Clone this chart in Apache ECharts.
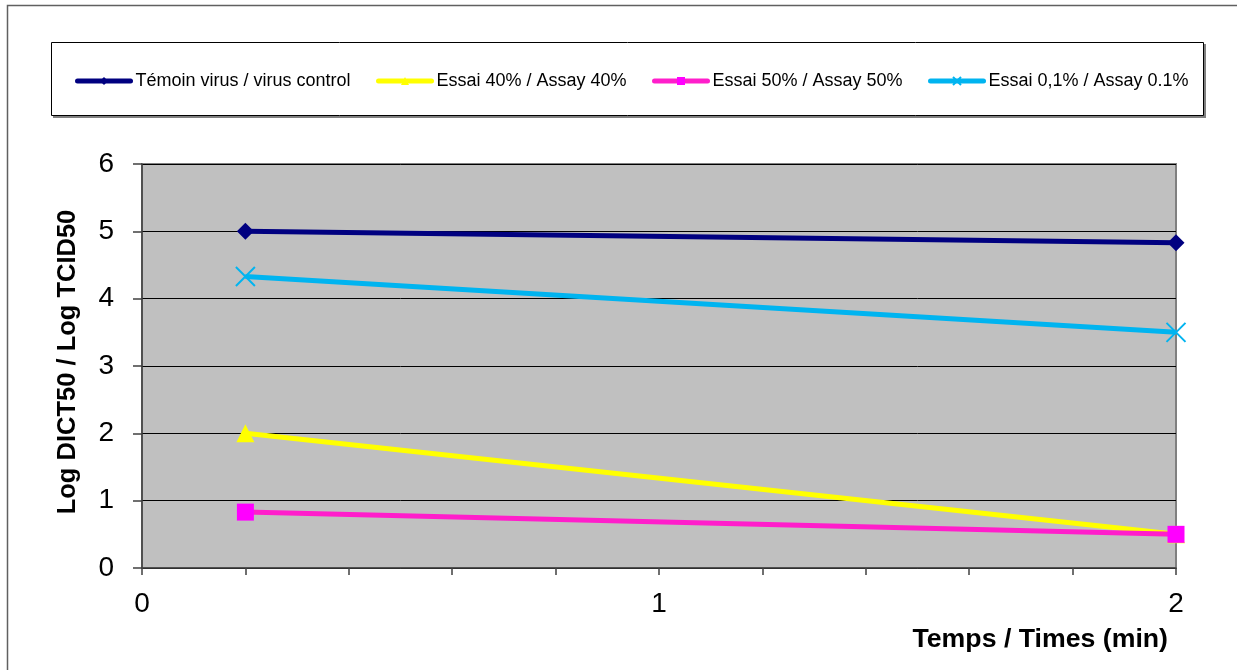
<!DOCTYPE html>
<html>
<head>
<meta charset="utf-8">
<script src="https://cdn.jsdelivr.net/npm/echarts@6/dist/echarts.min.js"></script>
<style>
  html, body { margin: 0; padding: 0; background: #ffffff; }
  #chart { width: 1237px; height: 670px; }
</style>
</head>
<body>
<div id="chart"></div>
<script>
// Sampling times (min) and Log TCID50 titres per series
const times = [0.2, 2];
const temoinVirus = [5.0, 4.83];
const essai40 = [2.0, 0.5];
const essai50 = [0.83, 0.5];
const essai01 = [4.33, 3.5];

const seriesNames = [
  'Témoin virus / virus control',
  'Essai 40% / Assay 40%',
  'Essai 50% / Assay 50%',
  'Essai 0,1% / Assay 0.1%'
];
const xTitle = 'Temps / Times (min)';
const yTitle = 'Log DICT50 / Log TCID50';

const FONT = '"Liberation Sans", Arial, sans-serif';

function pairs(vals) {
  return times.map((t, i) => [t, vals[i]]);
}

const crossPath = 'path://M0,0L10,10M10,0L0,10';

// one legend block per series so each entry sits at its own spot
const legendLefts = [75, 376, 652, 928];
const legends = seriesNames.map((name, i) => ({
  data: [name],
  left: legendLefts[i],
  top: 72,
  itemWidth: 53,
  itemHeight: 10,
  itemGap: 0,
  padding: 0,
  selectedMode: false,
  lineStyle: { width: 5, cap: 'round' },
  textStyle: { fontFamily: FONT, fontSize: 18, color: '#000' }
}));

const chart = echarts.init(document.getElementById('chart'), null, { renderer: 'canvas' });

chart.setOption({
  animation: false,
  backgroundColor: '#ffffff',
  graphic: [
    // outer chart frame
    { type: 'rect', z: -10, shape: { x: 7.5, y: 5.5, width: 1300, height: 700 },
      style: { fill: '#ffffff', stroke: '#606060', lineWidth: 1.5 } },
    // legend frame with its shadow
    { type: 'rect', z: -9, shape: { x: 53, y: 44, width: 1153, height: 74 },
      style: { fill: '#808080' } },
    { type: 'rect', z: -8, shape: { x: 51.5, y: 42.5, width: 1152, height: 73 },
      style: { fill: '#ffffff', stroke: '#000000', lineWidth: 1 } },
    // horizontal axis title
    { type: 'text', right: 1237 - 1168, top: 626,
      style: { text: xTitle, font: 'bold 26.7px ' + FONT, fill: '#000' } },
    // vertical axis title
    { type: 'text', x: 68, y: 362, rotation: Math.PI / 2,
      style: { text: yTitle, font: 'bold 25.5px ' + FONT, fill: '#000',
               align: 'center', verticalAlign: 'middle' } }
  ],
  legend: legends,
  grid: {
    left: 142, right: 61, top: 164, bottom: 102,
    show: true, backgroundColor: '#c0c0c0', borderColor: '#808080', borderWidth: 2
  },
  xAxis: {
    type: 'value', min: 0, max: 2, interval: 1,
    axisLine: { show: true, onZero: false, lineStyle: { color: '#404040', width: 1.5 } },
    axisTick: { show: true, inside: false, length: 7, lineStyle: { color: '#404040', width: 1.5 } },
    minorTick: { show: true, splitNumber: 5, length: 7, lineStyle: { color: '#404040', width: 1.5 } },
    splitLine: { show: false },
    axisLabel: { fontFamily: FONT, fontSize: 28, color: '#000', margin: 22 }
  },
  yAxis: {
    type: 'value', min: 0, max: 6, interval: 1,
    axisLine: { show: true, lineStyle: { color: '#404040', width: 1.5 } },
    axisTick: { show: true, inside: false, length: 9, lineStyle: { color: '#404040', width: 1.5 } },
    splitLine: { show: true, lineStyle: { color: '#000000', width: 1 } },
    axisLabel: { fontFamily: FONT, fontSize: 28, color: '#000', margin: 28 }
  },
  series: [
    {
      name: seriesNames[0], type: 'line', data: pairs(temoinVirus),
      symbol: 'diamond', symbolSize: 17,
      lineStyle: { color: '#000080', width: 5 },
      itemStyle: { color: '#000080' }
    },
    {
      name: seriesNames[1], type: 'line', data: pairs(essai40),
      symbol: 'triangle', symbolSize: 18,
      lineStyle: { color: '#ffff00', width: 5 },
      itemStyle: { color: '#ffff00' }
    },
    {
      name: seriesNames[2], type: 'line', data: pairs(essai50),
      symbol: 'rect', symbolSize: 17,
      lineStyle: { color: '#ff1ecb', width: 5 },
      itemStyle: { color: '#ff00ff' }
    },
    {
      name: seriesNames[3], type: 'line', data: pairs(essai01),
      symbol: crossPath, symbolSize: 19, symbolKeepAspect: true,
      lineStyle: { color: '#00b4f0', width: 5 },
      itemStyle: { color: 'rgba(0,0,0,0)', borderColor: '#00b4f0', borderWidth: 2 }
    }
  ]
});
</script>
</body>
</html>
